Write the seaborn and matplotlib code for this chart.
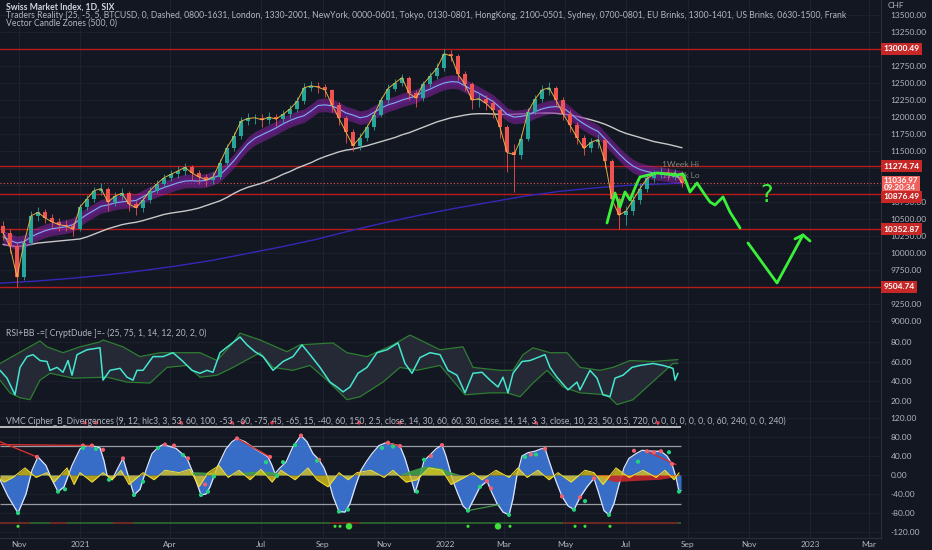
import numpy as np
import pandas as pd
import matplotlib
matplotlib.use('Agg')
import matplotlib.pyplot as plt
import matplotlib.transforms as mtransforms
import seaborn as sns

sns.set_style('dark')
plt.rcParams['font.family'] = ['Lato', 'DejaVu Sans']

# ---------------- data ----------------
base_date = pd.Timestamp('2020-10-13')
week_dates = pd.date_range('2020-10-16', periods=98, freq='7D')

closes = [10300, 10100, 9650, 10150, 10550, 10600, 10520, 10460, 10420, 10400,
          10350, 10680, 10800, 10920, 10950, 10750, 10840, 10880, 10720, 10670,
          10780, 10920, 11020, 11110, 11160, 11210, 11260, 11180, 11120, 11080,
          11120, 11330, 11550, 11720, 11940, 11980, 11990, 11960, 12000, 11970,
          12040, 12120, 12230, 12430, 12460, 12440, 12400, 12180, 11980, 11780,
          11580, 11700, 11850, 12030, 12250, 12420, 12500, 12580, 12350, 12280,
          12480, 12600, 12720, 12930, 12900, 12630, 12480, 12250, 12270, 12200,
          12100, 11850, 11480, 11450, 11680, 12080, 12260, 12400, 12430, 12250,
          12050, 11880, 11700, 11540, 11630, 11670, 11350, 10790, 10560, 10620,
          10780, 10950, 11100, 11160, 11190, 11160, 11180, 11037]
first_open = 10400
highs = [10480, 10350, 10150, 10200, 10620, 10680, 10650, 10580, 10520, 10490,
         10450, 10720, 10860, 10980, 11030, 10980, 10900, 10960, 10920, 10770,
         10830, 10980, 11080, 11170, 11230, 11280, 11320, 11290, 11220, 11170,
         11190, 11380, 11600, 11780, 12000, 12060, 12050, 12040, 12070, 12050,
         12100, 12180, 12300, 12500, 12530, 12510, 12480, 12420, 12220, 12020,
         11820, 11760, 11900, 12090, 12300, 12480, 12560, 12640, 12600, 12400,
         12530, 12660, 12790, 13000, 12990, 12920, 12680, 12520, 12360, 12330,
         12250, 12130, 11880, 11600, 11750, 12130, 12320, 12470, 12520, 12460,
         12290, 12100, 11930, 11740, 11700, 11750, 11700, 11380, 10820, 10700,
         10850, 11010, 11160, 11230, 11260, 11250, 11240, 11210]
lows = [10200, 10000, 9505, 9600, 10120, 10480, 10450, 10380, 10330, 10320,
        10250, 10320, 10640, 10760, 10850, 10620, 10700, 10780, 10620, 10560,
        10600, 10740, 10880, 10980, 11060, 11100, 11150, 11080, 11020, 10990,
        11010, 11090, 11290, 11500, 11680, 11880, 11900, 11860, 11900, 11870,
        11920, 11990, 12080, 12190, 12380, 12360, 12300, 12080, 11880, 11620,
        11500, 11520, 11650, 11810, 12000, 12200, 12380, 12450, 12250, 12150,
        12240, 12440, 12560, 12680, 12820, 12550, 12380, 12120, 12150, 12100,
        11980, 11700, 11200, 10900, 11380, 11650, 12040, 12220, 12330, 12150,
        11950, 11780, 11600, 11450, 11480, 11550, 11250, 10700, 10353, 10420,
        10560, 10730, 10900, 11050, 11100, 11080, 11080, 10980]

ema_band = [10240, 10190, 10150, 10170, 10240, 10290, 10330, 10360, 10375, 10390,
            10420, 10500, 10570, 10630, 10690, 10710, 10740, 10755, 10765, 10775,
            10830, 10885, 10925, 10965, 11000, 11035, 11060, 11065, 11060, 11070,
            11105, 11150, 11250, 11360, 11490, 11610, 11690, 11740, 11790, 11840,
            11900, 11950, 11990, 12020, 12090, 12170, 12180, 12165, 12120, 12060,
            12030, 11990, 12010, 12070, 12130, 12180, 12210, 12250, 12280, 12310,
            12370, 12410, 12460, 12500, 12520, 12515, 12460, 12400, 12350, 12290,
            12230, 12140, 12040, 12000, 12010, 12030, 12080, 12120, 12145, 12155,
            12140, 12060, 11970, 11900, 11840, 11790, 11680, 11570, 11460, 11360,
            11280, 11230, 11200, 11180, 11165, 11150, 11130, 11110]
sma_white = [10130, 10110, 10100, 10110, 10130, 10150, 10160, 10170, 10180, 10190,
             10200, 10210, 10240, 10280, 10320, 10360, 10390, 10420, 10440, 10455,
             10480, 10510, 10540, 10570, 10590, 10605, 10620, 10640, 10665, 10700,
             10735, 10770, 10820, 10880, 10930, 10970, 11000, 11030, 11070, 11110,
             11160, 11200, 11250, 11290, 11330, 11380, 11420, 11455, 11490, 11515,
             11530, 11555, 11580, 11610, 11640, 11670, 11700, 11740, 11770, 11810,
             11850, 11890, 11930, 11960, 11990, 12010, 12030, 12045, 12050, 12050,
             12045, 12040, 12040, 12040, 12045, 12050, 12055, 12060, 12060, 12055,
             12045, 12030, 12010, 11985, 11960, 11930, 11895, 11850, 11800, 11760,
             11730, 11700, 11670, 11640, 11620, 11600, 11575, 11550]
ema_blue_day = [0, 35, 70, 105, 140, 175, 210, 245, 280, 315, 350, 385, 420, 455,
                490, 525, 560, 595, 630, 665, 682]
ema_blue = [9560, 9590, 9630, 9680, 9740, 9810, 9890, 9990, 10090, 10200, 10330,
            10450, 10560, 10660, 10750, 10840, 10910, 10960, 11000, 11020, 11030]

levels = [13000.49, 11274.74, 10876.49, 10352.87, 9504.74]
last_price = 11036.97
last_time = '09:20:34'

price_ticks = [9000, 9250, 9500, 9750, 10000, 10250, 10500, 10750, 11000, 11250,
               11500, 11750, 12000, 12250, 12500, 12750, 13000, 13250, 13500]
covered_ticks = [9500, 11000, 11250, 13000]

# hand drawn projection (day offset, price)
sketch1_day = [607, 615, 620, 625, 630, 637, 640, 657, 677, 683, 690, 697, 705,
               710, 715, 723, 730, 740]
sketch1_px = [10445, 10885, 10680, 10900, 10783, 11032, 11120, 11179, 11150,
              11165, 10900, 11032, 10856, 10753, 10709, 10827, 10606, 10371]
sketch2_day = [748, 777, 803]
sketch2_px = [10151, 9563, 10269]
head_day = [795, 803, 810]
head_px = [10210, 10269, 10180]

# RSI
rsi_day = [0, 7, 15, 20, 27, 33, 40, 47, 50, 57, 63, 68, 72, 77, 87, 100, 103, 110,
           120, 127, 133, 137, 143, 153, 163, 173, 182, 192, 200, 207, 213, 220, 230,
           240, 247, 255, 263, 273, 283, 293, 302, 310, 320, 330, 337, 343, 350, 358,
           367, 377, 387, 398, 405, 412, 420, 430, 440, 448, 457, 465, 473, 482, 490,
           498, 503, 508, 513, 522, 530, 540, 545, 550, 557, 568, 577, 580, 590, 597,
           603, 610, 615, 623, 632, 640, 653, 663, 673, 675, 678]
rsi_val = [51, 43, 26, 54, 65, 67, 61, 60, 51, 54, 49, 61, 46, 67, 72, 74, 41, 51,
           53, 44, 41, 51, 51, 65, 65, 69, 61, 51, 48, 51, 49, 69, 77, 85, 77, 70,
           65, 51, 60, 65, 77, 67, 54, 39, 34, 29, 34, 48, 54, 69, 72, 79, 58, 48,
           64, 69, 67, 51, 46, 28, 48, 49, 41, 34, 44, 28, 48, 60, 61, 65, 67, 54,
           44, 31, 39, 31, 51, 43, 26, 24, 43, 46, 54, 56, 58, 56, 53, 41, 48]
bb_up_day = [0, 40, 47, 63, 80, 100, 103, 123, 140, 160, 200, 217, 233, 240, 260,
             287, 300, 333, 347, 367, 393, 410, 440, 463, 473, 500, 513, 523, 533,
             550, 567, 580, 600, 613, 630, 653, 678]
bb_up = [58, 81, 75, 69, 75, 80, 82, 75, 65, 69, 69, 61, 79, 89, 82, 70, 77, 79,
         69, 65, 77, 87, 72, 75, 54, 51, 51, 67, 74, 69, 69, 54, 51, 54, 61, 60, 62]
bb_lo_day = [0, 10, 20, 30, 40, 50, 73, 107, 127, 150, 167, 187, 200, 217, 233, 260,
             273, 293, 310, 327, 347, 360, 383, 400, 417, 440, 450, 465, 490, 507,
             520, 533, 547, 563, 580, 607, 617, 633, 647, 660, 673, 678]
bb_lo = [41, 28, 23, 21, 41, 48, 43, 44, 39, 38, 54, 56, 44, 46, 54, 69, 54, 51,
         56, 41, 21, 24, 39, 54, 51, 56, 44, 26, 28, 28, 24, 38, 51, 34, 28, 26,
         16, 21, 34, 46, 58, 58]

# VMC Cipher B
wave_day = [0, 8, 18, 26, 32, 38, 46, 52, 58, 64, 72, 80, 87, 95, 100, 104, 107, 112,
            118, 123, 128, 134, 140, 146, 152, 158, 163, 170, 176, 182, 187, 194, 201,
            206, 210, 218, 226, 232, 237, 245, 255, 263, 268, 272, 275, 280, 286, 293,
            301, 307, 313, 319, 324, 328, 333, 339, 345, 350, 356, 361, 366, 372, 379,
            386, 393, 400, 405, 410, 415, 419, 424, 430, 436, 442, 446, 450, 453, 458,
            463, 468, 474, 480, 487, 491, 497, 503, 509, 513, 517, 522, 528, 535, 541,
            545, 549, 553, 556, 562, 568, 574, 577, 580, 587, 594, 599, 604, 609, 614,
            619, 624, 629, 636, 642, 647, 654, 661, 667, 672, 676, 679, 681]
wave_val = [-10, -45, -80, -40, 10, 38, 20, -10, -35, -25, 20, 55, 62, 60, 57, 30, 0,
            -10, 15, 35, 0, -42, -30, 10, 45, 58, 64, 60, 56, 45, 35, 0, -42, -40, -25,
            20, 55, 70, 77, 70, 55, 45, 38, 20, 3, 15, 27, 60, 83, 70, 45, 32, 15, -7,
            -45, -77, -78, -60, -20, 10, 27, 45, 62, 68, 65, 61, 35, 0, -37, -10, 30,
            42, 55, 63, 40, 10, -13, -40, -65, -75, -50, -25, -13, -33, -60, -78, -84,
            -50, 0, 40, 47, 50, 55, 56, 30, 5, -13, -45, -65, -73, -60, -47, -25, -7,
            -40, -75, -84, -60, -20, 15, 35, 45, 52, 51, 50, 50, 40, 23, -5, -35, -33]
mf_day = [0, 4, 13, 25, 36, 47, 54, 67, 74, 80, 92, 103, 112, 121, 129, 143, 154,
          165, 179, 190, 199, 208, 219, 228, 239, 250, 261, 272, 281, 295, 308, 317,
          328, 339, 348, 357, 371, 384, 393, 406, 417, 429, 442, 451, 460, 473, 482,
          496, 509, 518, 527, 538, 549, 558, 571, 585, 594, 603, 616, 629, 643, 656,
          665, 674, 679]
mf_val = [-8, -15, -5, 15, -5, 5, -15, 15, -20, 5, -15, 5, -10, 10, -20, 5, -10, 10,
          5, 12, -25, 5, 20, -5, 10, -10, 12, -15, 10, -10, 15, -10, -25, 5, -10, 5,
          10, -5, 10, -15, -10, 15, 10, -20, -10, 5, -10, 10, -5, 15, -5, 10, -10, 5,
          -15, 10, 5, -20, 15, -5, 10, -5, 10, -10, 5]
mfi_day = [0, 180, 195, 215, 230, 240, 260, 275, 290, 400, 410, 425, 440, 452, 460,
           590, 600, 615, 640, 660, 675, 681]
mfi_val = [0, 0, 6, 4, 0, 4, 8, 5, 0, 0, 8, 18, 15, 5, 0, 0, -5, -15, -12, -10, -5, 0]

sell_dot_day = [37, 83, 92, 103, 123, 165, 174, 188, 205, 237, 270, 301, 319, 388,
                400, 431, 442, 487, 491, 531, 545, 562, 580, 594, 634, 647, 654, 661, 672]
sell_dot_val = [38, 62, 62, 53, 35, 64, 62, 35, -20, 77, 38, 83, 32, 68, 61, 40, 63,
                -13, -28, 43, 55, -45, -47, -7, 51, 50, 48, 50, 23]
buy_dot_day = [18, 58, 65, 83, 96, 109, 134, 143, 158, 183, 201, 208, 214, 266, 277,
               283, 295, 317, 339, 348, 382, 393, 417, 424, 468, 480, 509, 525, 536,
               574, 585, 609, 638, 669, 679]
buy_dot_val = [-80, -35, -30, 57, 55, -10, -42, -14, 57, 42, -42, -35, -3, 27, -2, 27,
               63, 30, -77, -73, 57, 60, -35, 32, -75, -25, -84, 38, 43, -73, -55, -84,
               28, 48, -35]
top_dot_day = [85, 96, 181, 232, 243, 272, 359, 400, 536, 658]
bottom_dot_day = [18, 335, 340, 349, 468, 498, 510, 575, 585, 610]
bottom_dot_big = [0, 0, 0, 1, 0, 1, 0, 0, 0, 0]
bear_span_start = [0, 50, 113, 330, 563]
bear_span_end = [30, 67, 133, 360, 678]

date_ticks = ['2020-11-01', '2021-01-01', '2021-04-01', '2021-07-01', '2021-09-01',
              '2021-11-01', '2022-01-01', '2022-03-01', '2022-05-01', '2022-07-01',
              '2022-09-01', '2022-11-01', '2023-01-01', '2023-03-01']
date_labels = ['Nov', '2021', 'Apr', 'Jul', 'Sep', 'Nov', '2022', 'Mar', 'May',
               'Jul', 'Sep', 'Nov', '2023', 'Mar']

# ---------------- styling ----------------
BG = '#131722'
GRID = '#1e2230'
TXT = '#b2b5be'
SEP = '#2a2e39'
UP = '#26a69a'
DOWN = '#ef5350'
LEVEL = '#b71c1c'

W, H = 932, 550
fig = plt.figure(figsize=(W / 100, H / 100), dpi=100, facecolor=BG)
axw = 881 / W
ax1 = fig.add_axes([0, (H - 328) / H, axw, 328 / H])
ax2 = fig.add_axes([0, (H - 415) / H, axw, 87 / H])
ax3 = fig.add_axes([0, 12 / H, axw, 123 / H])

wx = np.asarray((week_dates - base_date).days, dtype=float)
tick_x = [(pd.Timestamp(d) - base_date).days for d in date_ticks]

for ax in (ax1, ax2, ax3):
    ax.set_facecolor(BG)
    ax.set_xlim(0, 881)
    for s in ax.spines.values():
        s.set_visible(False)
    ax.spines['right'].set_visible(True)
    ax.spines['right'].set_color(SEP)
    ax.spines['bottom'].set_visible(True)
    ax.spines['bottom'].set_color(SEP)
    ax.yaxis.tick_right()
    ax.tick_params(axis='y', length=0, labelsize=6, colors=TXT, pad=7)
    ax.tick_params(axis='x', length=0)
    ax.set_xticks(tick_x)
    ax.set_xticklabels([])
    ax.grid(True, axis='x', color=GRID, lw=0.8)

blend1 = mtransforms.blended_transform_factory(ax1.transAxes, ax1.transData)

# ---------------- price panel ----------------
ax1.set_ylim(8902, 13720)
ax1.set_yticks(price_ticks)
ax1.set_yticklabels(['' if v in covered_ticks else f'{v:.2f}' for v in price_ticks])
ax1.grid(True, axis='y', color=GRID, lw=0.6)

for lv in levels:
    ax1.axhline(lv, color=LEVEL, lw=1.0, zorder=2)
ax1.axhline(last_price, color='#ef5350', lw=0.8, ls=(0, (1, 2)), zorder=2)

sns.lineplot(x=ema_blue_day, y=ema_blue, ax=ax1, color='#3428b8', lw=1.0, zorder=3)
sns.lineplot(x=wx, y=sma_white, ax=ax1, color='#c8c8c8', lw=1.0, zorder=3)
band = np.array(ema_band)
ax1.fill_between(wx, band - 100, band + 100, color='#8e24aa', alpha=0.5, lw=0, zorder=3)
ax1.fill_between(wx, band - 50, band + 50, color='#6a1b9a', alpha=0.35, lw=0, zorder=3)
sns.lineplot(x=wx, y=ema_band, ax=ax1, color='#7fb0f0', lw=0.8, zorder=4)

ax1.text(662, 11297, '1Week Hi', color='#7d8a80', fontsize=6, va='center', zorder=3)
ax1.text(662, 11135, '1Week Lo', color='#7d8a80', fontsize=6, va='center', zorder=3)

opens = [first_open] + closes[:-1]
cols = [UP if c >= o else DOWN for o, c in zip(opens, closes)]
ax1.vlines(wx, lows, highs, colors=cols, lw=0.6, zorder=5)
body_h = [c - o if c != o else 8 for o, c in zip(opens, closes)]
ax1.bar(wx, body_h, bottom=opens, width=3.2, color=cols, lw=0, zorder=6)
sns.lineplot(x=wx, y=closes, ax=ax1, color='#f3c044', lw=0.7, alpha=0.9, zorder=7)

GREEN = '#3bf03b'
sns.lineplot(x=sketch1_day, y=sketch1_px, ax=ax1, color=GREEN, lw=2.0, zorder=8,
             sort=False)
sns.lineplot(x=sketch2_day, y=sketch2_px, ax=ax1, color=GREEN, lw=2.0, zorder=8,
             sort=False)
ax1.plot(head_day, head_px, color=GREEN, lw=2.0, zorder=8, solid_joinstyle='round')
ax1.text(767, 10856, '?', color=GREEN, fontsize=17, ha='center', va='center',
         family='DejaVu Sans', zorder=8)

# price-scale label boxes; the 10876.49 box is nudged down below the live-price box
label_nudge = {10876.49: -45}
for lv in levels:
    ax1.text(1.003, lv + label_nudge.get(lv, 0), f'{lv:.2f}', transform=blend1,
             color='white', fontsize=6, fontweight='bold', va='center', ha='left',
             clip_on=False, zorder=22 if lv in label_nudge else 20,
             bbox=dict(boxstyle='square,pad=0.3', fc='#c62828', ec='none'))
ax1.text(1.003, last_price - 20, f'{last_price:.2f}\n{last_time}', transform=blend1,
         color='white', fontsize=5.8, fontweight='bold', va='center', ha='left',
         linespacing=0.95, clip_on=False, zorder=21,
         bbox=dict(boxstyle='square,pad=0.18', fc='#f0605d', ec='none'))
fig.text(888 / W, 1 - 5 / H, 'CHF', color=TXT, fontsize=6, va='center', ha='left')

ax1.text(6 / 881, 1 - 7 / 328, 'Swiss Market Index, 1D, SIX', transform=ax1.transAxes,
         color='#d1d4dc', fontsize=6.2, fontweight='bold', va='center', zorder=30)
ax1.text(6 / 881, 1 - 15.5 / 328,
         'Traders Reality (25, -5, 5, BTCUSD, 0, Dashed, 0800-1631, London, 1330-2001, '
         'NewYork, 0000-0601, Tokyo, 0130-0801, HongKong, 2100-0501, Sydney, 0700-0801, '
         'EU Brinks, 1300-1401, US Brinks, 0630-1500, Frank',
         transform=ax1.transAxes, color=TXT, fontsize=6.2, va='center', zorder=30,
         clip_on=True)
ax1.text(6 / 881, 1 - 23.5 / 328, 'Vector Candle Zones (500, 0)', transform=ax1.transAxes,
         color=TXT, fontsize=6.2, va='center', zorder=30)

# ---------------- RSI panel ----------------
ax2.set_ylim(5.4, 94.2)
ax2.set_yticks([20, 40, 60, 80])
ax2.set_yticklabels(['20.00', '40.00', '60.00', '80.00'])
ax2.grid(True, axis='y', color=GRID, lw=0.6)
ax2.fill(np.r_[bb_up_day, bb_lo_day[::-1]], np.r_[bb_up, bb_lo[::-1]],
         color='#262b37', alpha=0.95, lw=0, zorder=2)
sns.lineplot(x=bb_up_day, y=bb_up, ax=ax2, color='#2e7d32', lw=0.9, zorder=3)
sns.lineplot(x=bb_lo_day, y=bb_lo, ax=ax2, color='#2e7d32', lw=0.9, zorder=3)
sns.lineplot(x=rsi_day, y=rsi_val, ax=ax2, color='#45e6cf', lw=1.1, zorder=4)
ax2.text(6 / 881, 1 - 5 / 87, 'RSI+BB -=[ CryptDude ]=- (25, 75, 1, 14, 12, 20, 2, 0)',
         transform=ax2.transAxes, color=TXT, fontsize=6.2, va='center', zorder=30)

# ---------------- VMC panel ----------------
ax3.set_ylim(-132.6, 126.3)
vt = [-120, -80, -40, 0, 40, 80, 120]
ax3.set_yticks(vt)
ax3.set_yticklabels([f'{v:.2f}' for v in vt])
ax3.grid(True, axis='y', color=GRID, lw=0.6)
ax3.set_xticklabels(date_labels)
ax3.tick_params(axis='x', labelsize=6, colors=TXT, pad=2)

end_day = wave_day[-1]
ax3.hlines([60, -60], 0, end_day, color='#9a9ca3', lw=0.9, zorder=2)
ax3.hlines(100, 0, end_day, color='#d8d8d8', lw=1.2, zorder=2)
ax3.fill_between(wave_day, 0, wave_val, color='#3a72d0', alpha=0.95, lw=0, zorder=3)
sns.lineplot(x=wave_day, y=wave_val, ax=ax3, color='#dbe6ff', lw=0.9, zorder=4)
mfi = np.array(mfi_val)
ax3.fill_between(mfi_day, 0, mfi, where=mfi >= 0, interpolate=True, color='#43a047',
                 alpha=0.9, lw=0, zorder=4)
ax3.fill_between(mfi_day, 0, mfi, where=mfi <= 0, interpolate=True, color='#c62828',
                 alpha=0.9, lw=0, zorder=4)
ax3.fill_between(mf_day, 0, mf_val, color='#d9c21c', alpha=0.8, lw=0, zorder=5)
sns.lineplot(x=mf_day, y=mf_val, ax=ax3, color='#f4df3a', lw=0.7, zorder=5)

for (d0, v0), (d1, v1) in [((0, 70), (37, 38)), ((0, 64), (92, 62)),
                           ((237, 77), (270, 38)), ((386, 68), (400, 61)),
                           ((647, 50), (676, 22))]:
    ax3.plot([d0, d1], [v0, v1], color='#d32f2f', lw=1.0, zorder=6)
ax3.plot([468, 500], [-75, -62], color='#43a047', lw=0.8, zorder=6)

sns.scatterplot(x=sell_dot_day, y=sell_dot_val, ax=ax3, color='#f06070', s=9,
                edgecolor='none', zorder=7)
sns.scatterplot(x=buy_dot_day, y=buy_dot_val, ax=ax3, color='#22d47e', s=9,
                edgecolor='none', zorder=7)
sns.scatterplot(x=top_dot_day, y=[110] * len(top_dot_day), ax=ax3, color='#e03040',
                s=7, edgecolor='none', zorder=7)

ax3.hlines(-100, 0, end_day, color='#2e6b2e', lw=1.2, zorder=2)
ax3.hlines([-100] * len(bear_span_start), bear_span_start, bear_span_end,
           color='#7a1f1f', lw=1.2, zorder=2)
bsz = [22 if b else 5 for b in bottom_dot_big]
ax3.scatter(bottom_dot_day, [-108] * len(bottom_dot_day), s=bsz, color='#3ee03e',
            edgecolor='none', zorder=7)

ax3.text(6 / 881, 1 - 6 / 123,
         'VMC Cipher_B_Divergences (9, 12, hlc3, 3, 53, 60, 100, -53, -60, -75, 45, -65, '
         '15, -40, 60, 150, 2.5, close, 14, 30, 60, 60, 30, close, 14, 14, 3, 3, close, '
         '10, 23, 50, 0.5, 720, 0, 0, 0, 0, 0, 0, 0, 60, 240, 0, 0, 240)',
         transform=ax3.transAxes, color=TXT, fontsize=6.2, va='center', zorder=30,
         clip_on=True)

for ax in (ax1, ax2, ax3):
    leg = ax.get_legend()
    if leg:
        leg.remove()
    ax.set_xlabel('')
    ax.set_ylabel('')

fig.savefig('out.png', dpi=100, facecolor=BG)
